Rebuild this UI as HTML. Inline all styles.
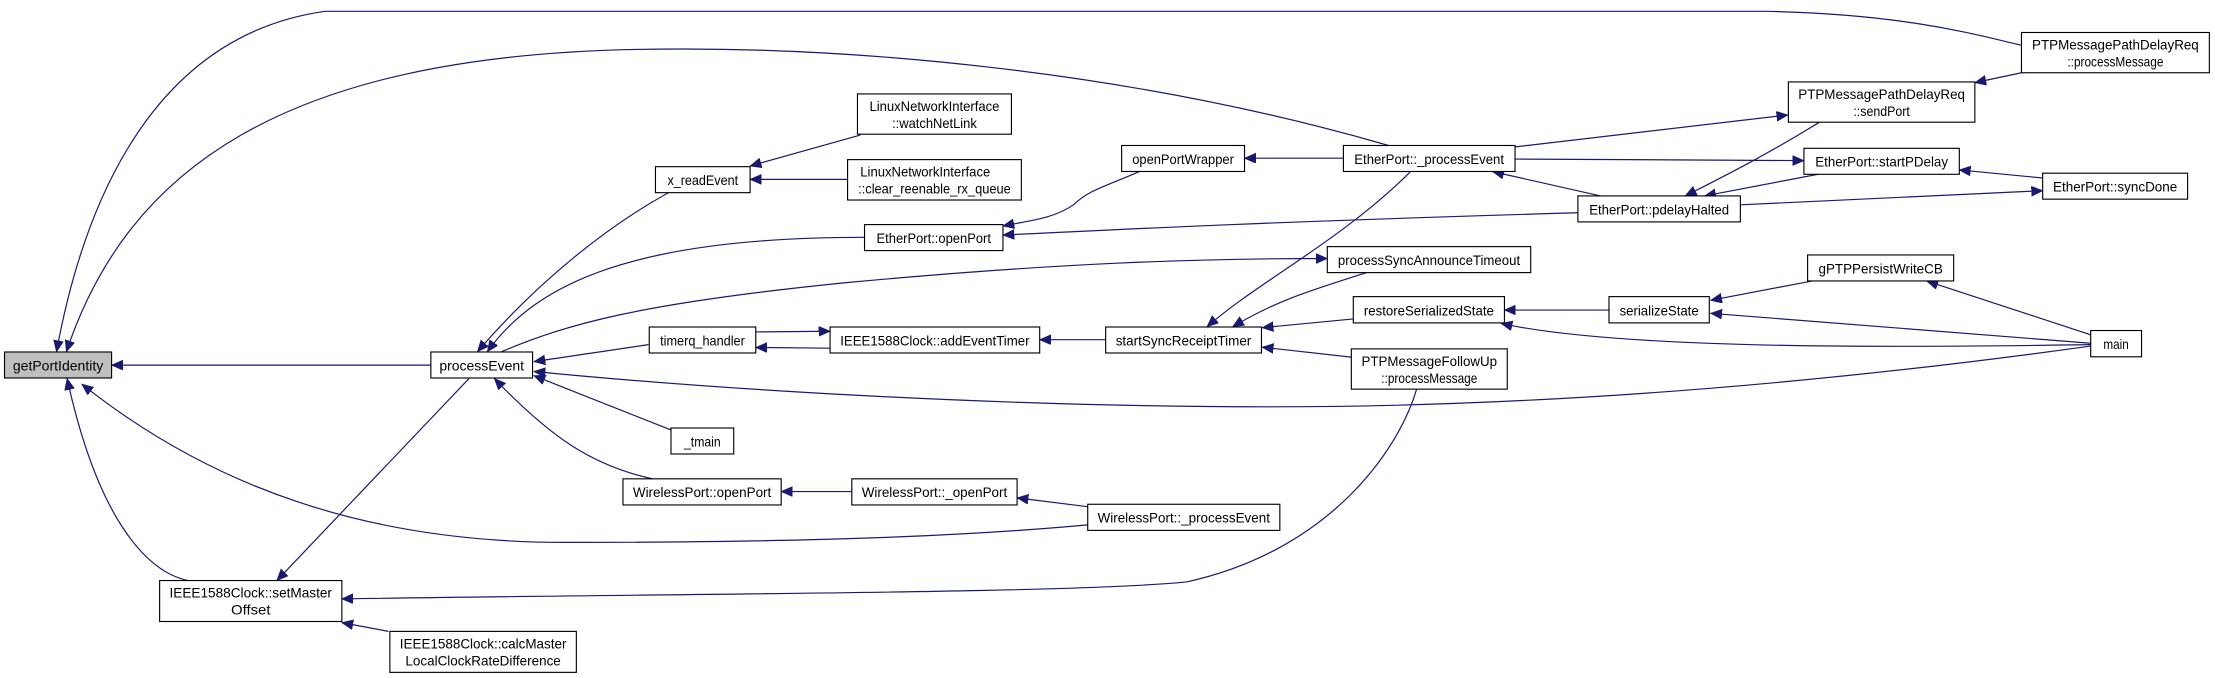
<!DOCTYPE html>
<html><head><meta charset="utf-8"><style>
html,body{margin:0;padding:0;background:#fff;}
svg{display:block;}
text{font-family:"Liberation Sans",Arial,sans-serif;font-size:10px;fill:#000;}
.e{fill:none;stroke:#191970;stroke-width:0.85;}
.n{fill:#fff;stroke:#000;stroke-width:0.8;}
</style></head><body>
<svg width="2215" height="678" viewBox="0 0 1568 480" preserveAspectRatio="none" xmlns="http://www.w3.org/2000/svg">
<defs>
<marker id="a" markerUnits="userSpaceOnUse" markerWidth="10" markerHeight="8" refX="8" refY="3.5" orient="auto">
<path d="M0,0 L8,3.5 L0,7 z" fill="#191970" stroke="#191970" stroke-width="0.5"/>
</marker>
</defs>
<g class="e" marker-end="url(#a)">
<path d="M305,258.5 L79,258.5"/>
<path d="M1431,32 C1400,25 1350,10 1250,8 L230,8 C110,25 60,140 40,249"/>
<path d="M983,103 C800,50 600,32 450,35 C200,40 90,120 47,249"/>
<path d="M770,371.6 C700,378 600,384 400,384 C260,384 150,345 58,272"/>
<path d="M133,411 C105,405 70,370 47.5,268"/>
<path d="M474,136 C430,160 380,200 338,249"/>
<path d="M612,168 C450,168 380,200 345,249"/>
<path d="M355,249 C400,230 450,215 600,200 C750,186 850,183 939.6,183"/>
<path d="M459,244 L378,256"/>
<path d="M1480,245 C1300,270 1100,288 900,288 C700,288 500,275 378,263"/>
<path d="M475,304.4 L378,266"/>
<path d="M462,339 C420,330 390,310 350,268"/>
<path d="M332,268 L196,411"/>
<path d="M1003,275 C990,320 940,390 840,412 C760,420 500,420 242,424"/>
<path d="M275,447 L242,440.8"/>
<path d="M609,95.6 L531,117.5"/>
<path d="M600,127 L531,127"/>
<path d="M807.6,121 C780,133 770,135 760,145 C745,155 730,156 710,160"/>
<path d="M1117,150.6 C900,157 800,162 710,166.4"/>
<path d="M951,112 L881,112"/>
<path d="M535,235 L587.6,234.5"/>
<path d="M587.6,246.5 L535,246"/>
<path d="M782.7,240.5 L736,240.5"/>
<path d="M999,121 C950,170 890,200 854.5,231.3"/>
<path d="M968.5,192.6 C930,205 905,212 872.6,231.3"/>
<path d="M958,225.8 L893.5,232"/>
<path d="M958,253 L893.5,245.8"/>
<path d="M1072.5,104 L1265.6,81.4"/>
<path d="M1072.5,112.6 L1277,113.7"/>
<path d="M1133,138.7 L1056.6,121.5"/>
<path d="M1288,86.5 C1250,110 1220,125 1193,138.7"/>
<path d="M1289,123 L1206.7,138.7"/>
<path d="M1232,145 L1446,135"/>
<path d="M1446,126 L1387,120.3"/>
<path d="M1431,51.5 L1398,58.5"/>
<path d="M1139,219.5 L1065,219.5"/>
<path d="M1480,244 C1350,246 1150,248 1062.6,229"/>
<path d="M1284,198.7 L1211,212.6"/>
<path d="M1480,243 L1211,221.8"/>
<path d="M1480,237 L1364,199"/>
<path d="M603,348 L553,348"/>
<path d="M770,358.7 L720,352.5"/>
</g>
<g>
<rect class="n" x="3.2" y="249.2" width="75.8" height="18.4" style="fill:#bfbfbf"/>
<text x="41.1" y="262.3" text-anchor="middle" textLength="64" lengthAdjust="spacingAndGlyphs">getPortIdentity</text>

<rect class="n" x="305" y="249.2" width="72" height="18.4"/>
<text x="341" y="262.3" text-anchor="middle" textLength="60" lengthAdjust="spacingAndGlyphs">processEvent</text>

<rect class="n" x="113" y="411" width="129" height="29"/>
<text x="177.5" y="423" text-anchor="middle" textLength="115" lengthAdjust="spacingAndGlyphs">IEEE1588Clock::setMaster</text>
<text x="177.5" y="435" text-anchor="middle" textLength="28" lengthAdjust="spacingAndGlyphs">Offset</text>

<rect class="n" x="276" y="447" width="132" height="29"/>
<text x="342" y="459" text-anchor="middle" textLength="118" lengthAdjust="spacingAndGlyphs">IEEE1588Clock::calcMaster</text>
<text x="342" y="471" text-anchor="middle" textLength="110" lengthAdjust="spacingAndGlyphs">LocalClockRateDifference</text>

<rect class="n" x="607" y="66.5" width="109" height="28.5"/>
<text x="661.5" y="78.5" text-anchor="middle" textLength="92" lengthAdjust="spacingAndGlyphs">LinuxNetworkInterface</text>
<text x="661.5" y="90.5" text-anchor="middle" textLength="60" lengthAdjust="spacingAndGlyphs">::watchNetLink</text>

<rect class="n" x="464" y="118" width="67" height="18.4"/>
<text x="497.5" y="131" text-anchor="middle" textLength="50" lengthAdjust="spacingAndGlyphs">x_readEvent</text>

<rect class="n" x="600" y="113" width="123" height="28.6"/>
<text x="655" y="125" text-anchor="middle" textLength="92" lengthAdjust="spacingAndGlyphs">LinuxNetworkInterface</text>
<text x="661.5" y="137" text-anchor="middle" textLength="108" lengthAdjust="spacingAndGlyphs">::clear_reenable_rx_queue</text>

<rect class="n" x="794" y="103" width="87" height="18.4"/>
<text x="837.5" y="116" text-anchor="middle" textLength="72" lengthAdjust="spacingAndGlyphs">openPortWrapper</text>

<rect class="n" x="612" y="159" width="98" height="18.4"/>
<text x="661" y="172" text-anchor="middle" textLength="81" lengthAdjust="spacingAndGlyphs">EtherPort::openPort</text>

<rect class="n" x="459.6" y="231.5" width="75.4" height="18.4"/>
<text x="497.3" y="244.6" text-anchor="middle" textLength="60" lengthAdjust="spacingAndGlyphs">timerq_handler</text>

<rect class="n" x="587.6" y="231.5" width="148.4" height="18.4"/>
<text x="661.8" y="244.6" text-anchor="middle" textLength="134" lengthAdjust="spacingAndGlyphs">IEEE1588Clock::addEventTimer</text>

<rect class="n" x="782.7" y="231.5" width="110.3" height="18.4"/>
<text x="837.8" y="244.6" text-anchor="middle" textLength="96" lengthAdjust="spacingAndGlyphs">startSyncReceiptTimer</text>

<rect class="n" x="1431" y="23" width="133" height="28.5"/>
<text x="1497.5" y="35" text-anchor="middle" textLength="118" lengthAdjust="spacingAndGlyphs">PTPMessagePathDelayReq</text>
<text x="1497.5" y="47" text-anchor="middle" textLength="68" lengthAdjust="spacingAndGlyphs">::processMessage</text>

<rect class="n" x="1266" y="58" width="132" height="28.5"/>
<text x="1332" y="70" text-anchor="middle" textLength="118" lengthAdjust="spacingAndGlyphs">PTPMessagePathDelayReq</text>
<text x="1332" y="82" text-anchor="middle" textLength="40" lengthAdjust="spacingAndGlyphs">::sendPort</text>

<rect class="n" x="951" y="103" width="121.5" height="18.4"/>
<text x="1011.7" y="116" text-anchor="middle" textLength="106" lengthAdjust="spacingAndGlyphs">EtherPort::_processEvent</text>

<rect class="n" x="1277" y="105" width="110" height="18.4"/>
<text x="1332" y="118" text-anchor="middle" textLength="94" lengthAdjust="spacingAndGlyphs">EtherPort::startPDelay</text>

<rect class="n" x="1446" y="122.6" width="102.6" height="18.4"/>
<text x="1497.3" y="135.6" text-anchor="middle" textLength="88" lengthAdjust="spacingAndGlyphs">EtherPort::syncDone</text>

<rect class="n" x="1117" y="138.7" width="115" height="18.4"/>
<text x="1174.5" y="151.7" text-anchor="middle" textLength="99" lengthAdjust="spacingAndGlyphs">EtherPort::pdelayHalted</text>

<rect class="n" x="939.6" y="174.6" width="144" height="18.4"/>
<text x="1011.6" y="187.6" text-anchor="middle" textLength="129" lengthAdjust="spacingAndGlyphs">processSyncAnnounceTimeout</text>

<rect class="n" x="1279.6" y="180.5" width="103.4" height="18.4"/>
<text x="1331.3" y="193.5" text-anchor="middle" textLength="88" lengthAdjust="spacingAndGlyphs">gPTPPersistWriteCB</text>

<rect class="n" x="958" y="210" width="107" height="18.6"/>
<text x="1011.5" y="223.2" text-anchor="middle" textLength="92" lengthAdjust="spacingAndGlyphs">restoreSerializedState</text>

<rect class="n" x="1139" y="210" width="71" height="18.6"/>
<text x="1174.5" y="223.2" text-anchor="middle" textLength="56" lengthAdjust="spacingAndGlyphs">serializeState</text>

<rect class="n" x="1480" y="234" width="36" height="18.6"/>
<text x="1498" y="247.2" text-anchor="middle" textLength="18" lengthAdjust="spacingAndGlyphs">main</text>

<rect class="n" x="956.6" y="247" width="110.4" height="28.5"/>
<text x="1011.8" y="259" text-anchor="middle" textLength="96" lengthAdjust="spacingAndGlyphs">PTPMessageFollowUp</text>
<text x="1011.8" y="271" text-anchor="middle" textLength="68" lengthAdjust="spacingAndGlyphs">::processMessage</text>

<rect class="n" x="475" y="303" width="44.4" height="18.4"/>
<text x="497.2" y="316" text-anchor="middle" textLength="26" lengthAdjust="spacingAndGlyphs">_tmain</text>

<rect class="n" x="441" y="339" width="112" height="18.5"/>
<text x="497" y="352" text-anchor="middle" textLength="98" lengthAdjust="spacingAndGlyphs">WirelessPort::openPort</text>

<rect class="n" x="603" y="339" width="117" height="18.5"/>
<text x="661.5" y="352" text-anchor="middle" textLength="103" lengthAdjust="spacingAndGlyphs">WirelessPort::_openPort</text>

<rect class="n" x="770" y="357" width="136" height="18.5"/>
<text x="838" y="370" text-anchor="middle" textLength="122" lengthAdjust="spacingAndGlyphs">WirelessPort::_processEvent</text>
</g>
</svg>
</body></html>
